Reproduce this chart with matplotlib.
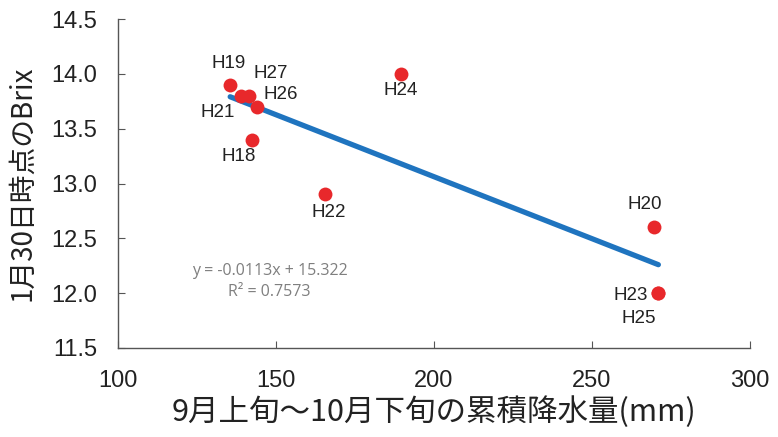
import numpy as np
import matplotlib
matplotlib.use('Agg')
import matplotlib.pyplot as plt

plt.rcParams['font.family'] = ['Noto Sans CJK JP', 'DejaVu Sans']

# Data
years = ['H18', 'H19', 'H20', 'H21', 'H22', 'H23', 'H24', 'H25', 'H26', 'H27']
rain = [142.5, 135.5, 269.5, 139, 165.5, 271, 189.5, 271, 144, 141.5]
brix = [13.4, 13.9, 12.6, 13.8, 12.9, 12.0, 14.0, 12.0, 13.7, 13.8]
slope, intercept = -0.0113, 15.322
eq_text = 'y = -0.0113x + 15.322\nR² = 0.7573'

# label offsets in pixels (dx, dy)
offsets = {
    'H18': (-14, -17), 'H19': (-2, 21), 'H20': (-9, 23), 'H21': (-24, -17),
    'H22': (4, -18), 'H23': (-28, -2), 'H24': (0, -17), 'H25': (-20, -25),
    'H26': (24, 12), 'H27': (22, 22),
}

fig = plt.figure(figsize=(7.78, 4.37), dpi=100)
ax = fig.add_axes([118 / 778, 1 - 348 / 437, 632 / 778, 329 / 437])

# trend line
xs = np.array([min(rain), max(rain)])
ax.plot(xs, slope * xs + intercept, color='#1f74bf', lw=3.8, solid_capstyle='round', zorder=2)

ax.scatter(rain, brix, s=100, color='#e8282b', zorder=3, linewidths=0)

for name, x, y in zip(years, rain, brix):
    dx, dy = offsets[name]
    ax.annotate(name, (x, y), xytext=(dx * 0.72, dy * 0.72), textcoords='offset points',
                ha='center', va='center', fontsize=13.5, color='#222222',
                family=['Liberation Sans', 'DejaVu Sans'])

ax.text(148, 12.11, eq_text, ha='center', va='center', fontsize=11.5, color='#7f7f7f',
        family=['Open Sans', 'DejaVu Sans'], linespacing=1.4)

ax.set_xlim(100, 300)
ax.set_ylim(11.5, 14.5)
ax.set_xticks([100, 150, 200, 250, 300])
ax.set_yticks(np.arange(11.5, 14.51, 0.5))
ax.set_yticklabels(['%.1f' % v for v in np.arange(11.5, 14.51, 0.5)])

for sp in ['top', 'right']:
    ax.spines[sp].set_visible(False)
for sp in ['left', 'bottom']:
    ax.spines[sp].set_color('#555555')
    ax.spines[sp].set_linewidth(1.0)

ax.tick_params(direction='in', length=5, color='#555555', labelsize=17, labelcolor='#222222')
ax.tick_params(axis='x', pad=16)
ax.tick_params(axis='y', pad=15)
for lab in ax.get_xticklabels() + ax.get_yticklabels():
    lab.set_family(['Liberation Sans', 'DejaVu Sans'])

ax.set_xlabel('9月上旬～10月下旬の累積降水量(mm)', fontsize=22, color='#222222', labelpad=3)
ax.set_ylabel('1月30日時点のBrix', fontsize=20, color='#222222', labelpad=10)

fig.savefig('out.png', dpi=100)
